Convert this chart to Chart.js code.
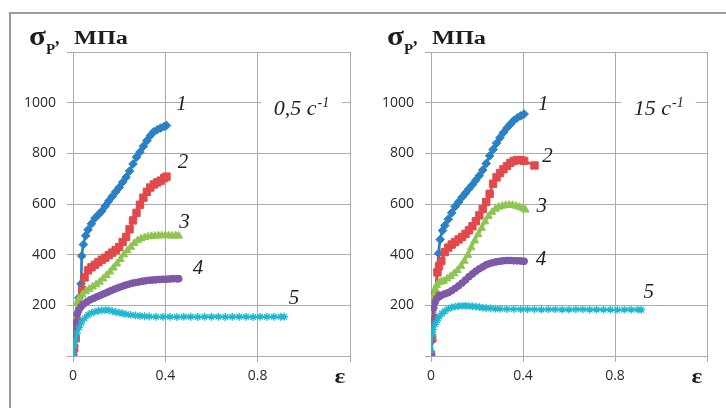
<!DOCTYPE html>
<html><head><meta charset="utf-8">
<script src="https://cdn.jsdelivr.net/npm/chart.js@4"></script>
<style>
html,body{margin:0;padding:0;background:#fff;width:726px;height:408px;overflow:hidden;position:relative}
#frame{position:absolute;left:9px;top:12px;width:800px;height:500px;border-left:2px solid #9c9c9c;border-top:2px solid #9c9c9c}
.wrap{position:absolute;top:0;width:363px;height:408px}
</style></head><body>
<div id="frame"></div>
<div class="wrap" style="left:0"><canvas id="c1" width="363" height="408"></canvas></div>
<div class="wrap" style="left:363px"><canvas id="c2" width="363" height="408"></canvas></div>
<script>
// ---- data: strain (ε) and stress σр, МПа ----
// strain rate 0,5 с-1
const L1x = [0,0.005,0.015,0.025,0.035,0.038,0.045,0.055,0.065,0.08,0.095,0.11,0.125,0.14,0.155,0.17,0.185,0.2,0.215,0.23,0.245,0.26,0.275,0.29,0.305,0.32,0.335,0.35,0.365,0.38,0.395,0.405];
const L1y = [5,40,150,230,285,395,440,475,498,522,544,558,572,592,612,630,648,665,686,706,730,758,785,805,828,850,870,885,893,900,906,910];
const L2x = [0,0.005,0.012,0.02,0.03,0.04,0.05,0.065,0.08,0.095,0.11,0.125,0.14,0.155,0.17,0.185,0.2,0.215,0.23,0.245,0.26,0.275,0.29,0.305,0.32,0.335,0.35,0.365,0.38,0.395,0.405];
const L2y = [5,30,70,130,200,260,310,338,350,360,370,380,388,398,408,418,430,450,470,500,535,565,597,625,648,665,677,685,692,702,708];
const L3x = [0,0.004,0.01,0.018,0.025,0.04,0.055,0.07,0.085,0.1,0.115,0.13,0.145,0.16,0.175,0.19,0.205,0.22,0.235,0.25,0.265,0.28,0.295,0.31,0.325,0.34,0.355,0.37,0.385,0.4,0.415,0.43,0.445,0.458];
const L3y = [5,90,160,210,228,242,255,264,273,282,292,305,318,332,348,364,382,400,416,430,445,456,463,468,471,473,474,475,475,476,475,474,475,474];
const L4x = [0,0.004,0.01,0.018,0.025,0.035,0.045,0.06,0.075,0.09,0.105,0.12,0.135,0.15,0.165,0.18,0.195,0.21,0.225,0.24,0.255,0.27,0.285,0.3,0.315,0.33,0.345,0.36,0.375,0.39,0.405,0.42,0.435,0.45,0.458];
const L4y = [5,80,130,165,180,195,204,214,222,228,234,240,246,252,258,264,269,274,279,283,287,290,292,295,297,299,300,301,302,303,303,304,305,305,305];
const L5x = [0,0.005,0.01,0.018,0.027,0.036,0.05,0.065,0.08,0.095,0.11,0.125,0.14,0.155,0.17,0.185,0.2,0.215,0.23,0.25,0.27,0.29,0.31,0.33,0.36,0.39,0.42,0.45,0.48,0.51,0.54,0.57,0.6,0.63,0.66,0.69,0.72,0.75,0.78,0.81,0.84,0.87,0.9,0.915];
const L5y = [10,40,62,90,112,130,148,162,170,175,178,180,181,181,177,174,171,168,165,162,160,158,157,156,155,155,155,154,155,155,154,155,155,155,154,155,155,155,154,155,155,155,155,155];
// strain rate 15 с-1
const R1x = [0,0.005,0.012,0.02,0.028,0.033,0.04,0.05,0.06,0.075,0.09,0.105,0.12,0.135,0.15,0.165,0.18,0.195,0.21,0.225,0.24,0.255,0.27,0.285,0.3,0.315,0.33,0.345,0.36,0.375,0.39,0.405];
const R1y = [5,60,150,250,340,405,460,495,515,540,565,590,608,627,643,660,676,694,712,734,760,790,815,840,862,882,900,915,930,940,948,955];
const R2x = [0,0.005,0.012,0.02,0.028,0.035,0.045,0.06,0.075,0.09,0.105,0.12,0.135,0.15,0.165,0.18,0.195,0.21,0.225,0.24,0.255,0.27,0.285,0.3,0.315,0.33,0.345,0.36,0.375,0.39,0.405,0.45];
const R2y = [5,70,150,240,330,355,375,410,428,440,450,460,470,482,496,512,532,555,580,608,640,680,705,722,737,750,762,770,774,773,770,752];
const R3x = [0,0.004,0.008,0.012,0.018,0.025,0.035,0.045,0.055,0.07,0.085,0.1,0.115,0.13,0.145,0.16,0.175,0.19,0.205,0.22,0.235,0.25,0.265,0.28,0.295,0.31,0.325,0.34,0.355,0.37,0.385,0.4,0.41];
const R3y = [0,100,180,240,265,280,290,293,296,305,315,325,338,355,375,398,428,455,480,505,530,552,568,580,588,592,595,596,595,592,588,582,577];
const R4x = [0,0.003,0.007,0.012,0.018,0.025,0.035,0.045,0.06,0.075,0.09,0.105,0.12,0.135,0.15,0.165,0.18,0.195,0.21,0.225,0.24,0.255,0.27,0.285,0.3,0.315,0.33,0.345,0.36,0.375,0.39,0.405];
const R4y = [5,80,140,190,212,226,234,240,245,250,258,267,277,288,300,313,324,335,344,352,360,365,369,372,374,376,377,377,376,376,375,374];
const R5x = [0,0.004,0.01,0.018,0.027,0.036,0.048,0.06,0.075,0.09,0.105,0.12,0.135,0.15,0.165,0.18,0.195,0.21,0.225,0.24,0.26,0.28,0.3,0.33,0.36,0.39,0.42,0.45,0.48,0.51,0.54,0.57,0.6,0.63,0.66,0.69,0.72,0.75,0.78,0.81,0.84,0.87,0.9,0.915];
const R5y = [20,80,105,125,140,155,168,177,186,192,195,197,198,198,197,196,195,193,191,189,188,187,186,185,185,184,184,184,183,184,184,183,183,184,184,183,183,183,183,182,183,183,183,182];

const seriesNames = ['1','2','3','4','5'];
const rateLabels = ['0,5 с', '15 с'];
const yTicks = [200,400,600,800,1000];
const xTicks = [0,0.4,0.8];

const colors = ['#2a80c4','#e2494b','#8dc550','#7d59a8','#1fb8d2'];
const styles = ['rectRot','rect','triangle','circle','star'];
const radii = [4.3,5.2,4.4,3.4,3.9];

function pts(xs, ys){ return xs.map((v,i)=>({x:v,y:ys[i]})); }

const notes = {
  id: 'notes',
  afterDatasetsDraw(chart, args, o) {
    const ctx = chart.ctx, xs = chart.scales.x, ys = chart.scales.y, a = chart.chartArea;
    const serif = '"Liberation Serif", "Times New Roman", serif';
    ctx.save();
    // rate box
    const bx = xs.getPixelForValue(o.rateAt[0]), by = ys.getPixelForValue(o.rateAt[1]);
    ctx.font = 'italic 22px ' + serif;
    const mainW = ctx.measureText(o.rate).width;
    ctx.font = 'italic 14px ' + serif;
    const supW = ctx.measureText('-1').width;
    const tw = mainW + supW + 1;
    ctx.fillStyle = '#fff';
    ctx.fillRect(bx - o.boxW/2, by - 9, o.boxW, 18);
    ctx.fillStyle = '#1e1e1e';
    ctx.textBaseline = 'alphabetic';
    ctx.textAlign = 'left';
    const tx = bx - tw/2;
    ctx.font = 'italic 22px ' + serif;
    ctx.fillText(o.rate, tx, by + 12);
    ctx.font = 'italic 14px ' + serif;
    ctx.fillText('-1', tx + mainW + 1, by + 4);
    // series numbers
    ctx.font = 'italic 21px ' + serif;
    ctx.textAlign = 'center';
    o.nums.forEach((p, i) => {
      ctx.fillText(seriesNames[i], xs.getPixelForValue(p[0]), ys.getPixelForValue(p[1]) + 7);
    });
    // y title σр, МПа
    ctx.textAlign = 'left';
    const L = a.left;
    ctx.save(); ctx.translate(L - 44, 45); ctx.scale(1.15, 1);
    ctx.font = 'bold 27px ' + serif; ctx.fillText('σ', 0, 0); ctx.restore();
    ctx.font = 'bold 15px ' + serif; ctx.fillText('Р', L - 27, 54);
    ctx.font = 'bold 18px ' + serif; ctx.fillText(',', L - 18, 44);
    ctx.save(); ctx.translate(L + 1, 44); ctx.scale(1.35, 1);
    ctx.font = 'bold 18px ' + serif; ctx.fillText('МПа', 0, 0); ctx.restore();
    // x title ε
    ctx.textAlign = 'center';
    ctx.save(); ctx.translate(a.right - 10, a.bottom + 27); ctx.scale(1.15, 1);
    ctx.font = 'bold 22px ' + serif; ctx.fillText('ε', 0, 0); ctx.restore();
    ctx.restore();
  }
};

function makeChart(id, X, Y, opts) {
  const datasets = X.map((xs, i) => ({
    data: pts(xs, Y[i]),
    borderColor: colors[i],
    backgroundColor: colors[i],
    pointStyle: styles[i],
    pointRadius: radii[i],
    pointBorderWidth: i === 4 ? 1.3 : 1,
    pointBorderColor: colors[i],
    borderWidth: 2.7,
    showLine: true,
    tension: 0.2,
    order: 4 - i
  }));
  return new Chart(document.getElementById(id), {
    type: 'scatter',
    data: { datasets },
    options: {
      responsive: false,
      animation: false,
      layout: { padding: { left: 0, right: opts.padRight, top: 52, bottom: 0 } },
      plugins: { legend: { display: false }, tooltip: { enabled: false }, notes: opts.notes },
      scales: {
        x: {
          type: 'linear', min: 0, max: 1.2,
          afterBuildTicks: s => { s.ticks = [0,0.4,0.8,1.2].map(v => ({value: v})); },
          afterFit: s => { s.height = 52; },
          grid: { color: '#ababab', lineWidth: 1, tickLength: 6 },
          border: { color: '#ababab' },
          ticks: {
            padding: 6, color: '#2a2a2a', font: { family: 'Open Sans', size: 14 }, maxRotation: 0,
            callback: v => { const r = Math.round(v * 10) / 10; return xTicks.includes(r) ? (r === 0 ? '0' : r.toFixed(1)) : ''; }
          }
        },
        y: {
          type: 'linear', min: 0, max: 1200,
          afterBuildTicks: s => { s.ticks = [0,200,400,600,800,1000,1200].map(v => ({value: v})); },
          afterFit: s => { s.width = opts.yWidth; },
          grid: { color: '#ababab', lineWidth: 1, tickLength: 6 },
          border: { color: '#ababab' },
          ticks: {
            padding: 11, color: '#2a2a2a', font: { family: 'Open Sans', size: 14 },
            callback: v => yTicks.includes(v) ? String(v) : ''
          }
        }
      }
    },
    plugins: [notes]
  });
}

makeChart('c1', [L1x, L2x, L3x, L4x, L5x], [L1y, L2y, L3y, L4y, L5y], {
  padRight: 13, yWidth: 73,
  notes: { rate: rateLabels[0], rateAt: [0.99, 1000], boxW: 81,
    nums: [[0.47, 998], [0.476, 771], [0.483, 531], [0.541, 350], [0.957, 231]] }
});
makeChart('c2', [R1x, R2x, R3x, R4x, R5x], [R1y, R2y, R3y, R4y, R5y], {
  padRight: 19, yWidth: 68,
  notes: { rate: rateLabels[1], rateAt: [0.99, 1000], boxW: 74,
    nums: [[0.488, 998], [0.506, 795], [0.481, 595], [0.478, 387], [0.947, 257]] }
});
</script></body></html>
